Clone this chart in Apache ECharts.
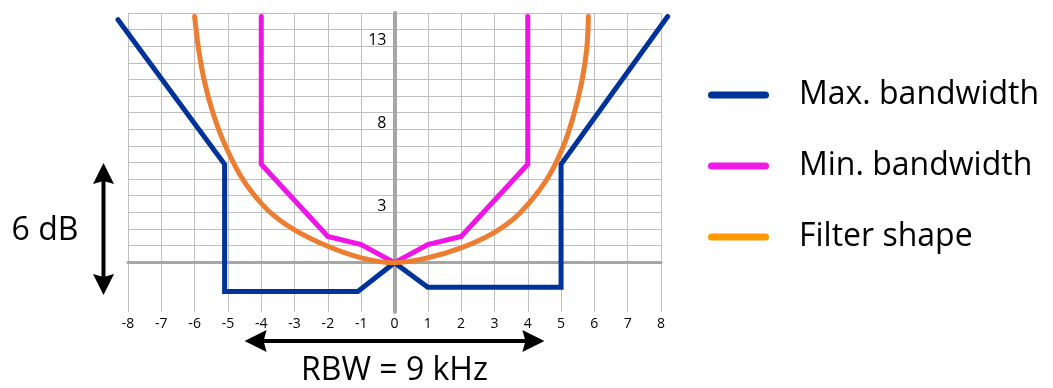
<!DOCTYPE html>
<html>
<head>
<meta charset="utf-8">
<script src="https://cdn.jsdelivr.net/npm/echarts@6/dist/echarts.min.js"></script>
<style>
html,body{margin:0;padding:0;background:#fff;}
#chart{width:1053px;height:388px;}
</style>
</head>
<body>
<div id="chart"></div>
<script>
// ---- data ----
const seriesNames = ['Max. bandwidth', 'Min. bandwidth', 'Filter shape'];
const maxBandwidth = [[-8.3,14.8],[-5.1,6],[-5.1,-1.75],[-1.1,-1.75],[0,0],[1,-1.5],[5,-1.5],[5,6],[8.2,15]];
const minBandwidth = [[-4,15],[-4,6],[-2,1.6],[-1,1.1],[0,0],[1,1.1],[2,1.6],[4,6],[4,15]];
const filterShape = [[-6,15],[-5.88,13],[-5.7,11],[-5.43,9],[-5.05,7],[-4.53,5],[-3.8,3.2],[-3,2],[-2,1.0],[-1,0.3],[0,0],[1,0.3],[2,0.9],[3,1.85],[3.75,3],[4.55,5],[5.05,7],[5.38,9],[5.62,11],[5.77,13],[5.82,15]];
const yTickLabels = [3, 8, 13];
const xRange = [-8, 8];
const yRange = [-3, 15];
const annotations = { level: '6 dB', rbw: 'RBW = 9 kHz', rbwSpan: [-4.5, 4.5] };

const FONT = 'Open Sans';
const GRID_C = '#BFBFBF';
const AXIS_C = '#A6A6A6';
const colors = ['#003399', '#F014E6', '#ED7D31'];
const legendColors = ['#003399', '#F01BE8', '#FF9A00'];

const chart = echarts.init(document.getElementById('chart'), null, {renderer: 'canvas'});

const W = 1053, H = 388;
const gLeft = 128, gRight = W - 661, gTop = 13, gBottom = H - 312;
const gWidth = W - gLeft - gRight, gHeight = H - gTop - gBottom;
const unitX = gWidth / (xRange[1] - xRange[0]);
const unitY = gHeight / (yRange[1] - yRange[0]);
const zeroPx = gTop + yRange[1] * unitY;
const yAxisShift = -xRange[0] * unitX;

const pill = 'path://M3.5,0 L57.5,0 A3.5,3.5 0 0 1 57.5,7 L3.5,7 A3.5,3.5 0 0 1 3.5,0 Z';

const option = {
  animation: false,
  backgroundColor: '#fff',
  grid: [
    {left: gLeft, right: gRight, top: gTop, bottom: gBottom, containLabel: false},
    {left: gLeft, right: gRight, top: gTop, bottom: H - zeroPx, containLabel: false},
    // same scale, one unit wider on each side, so line ends past the frame are not cut
    {left: gLeft - unitX, right: gRight - unitX, top: gTop - unitY, bottom: gBottom, containLabel: false}
  ],
  xAxis: [
    {
      type: 'value', gridIndex: 0, min: xRange[0], max: xRange[1], interval: 1,
      axisLine: {show: false}, axisTick: {show: false},
      axisLabel: {color: '#000', fontFamily: FONT, fontSize: 14, margin: 5},
      splitLine: {show: true, lineStyle: {color: GRID_C, width: 1}}
    },
    {
      type: 'value', gridIndex: 1, min: xRange[0], max: xRange[1], interval: 1,
      axisLine: {show: true, onZero: false, lineStyle: {color: AXIS_C, width: 3}},
      axisTick: {show: false}, axisLabel: {show: false}, splitLine: {show: false}
    },
    {
      type: 'value', gridIndex: 2, min: xRange[0] - 1, max: xRange[1] + 1, show: false
    }
  ],
  yAxis: [
    {
      type: 'value', gridIndex: 0, min: yRange[0], max: yRange[1], interval: 1,
      position: 'left', offset: -yAxisShift,
      axisLine: {show: true, onZero: false, lineStyle: {color: AXIS_C, width: 4}},
      axisTick: {show: false},
      splitLine: {show: false},
      axisLabel: {
        color: '#000', fontFamily: FONT, fontSize: 16, margin: 8,
        verticalAlign: 'bottom', lineHeight: 12,
        formatter: v => (yTickLabels.indexOf(v) >= 0 ? String(v) : '')
      }
    },
    {
      type: 'value', gridIndex: 1, min: 0, max: yRange[1], interval: 1,
      axisLine: {show: false}, axisTick: {show: false}, axisLabel: {show: false},
      splitLine: {show: true, lineStyle: {color: GRID_C, width: 1}}
    },
    {
      type: 'value', gridIndex: 2, min: yRange[0], max: yRange[1] + 1, show: false
    }
  ],
  legend: {
    orient: 'vertical', left: 703, top: 71,
    icon: pill, itemWidth: 61, itemHeight: 7, itemGap: 33,
    textStyle: {fontFamily: FONT, fontSize: 32, color: '#000', lineHeight: 38, padding: [0, 0, 0, 25]},
    data: seriesNames.map((n, i) => ({name: n, itemStyle: {color: legendColors[i]}}))
  },
  series: [
    {name: seriesNames[0], type: 'line', xAxisIndex: 2, yAxisIndex: 2, data: maxBandwidth, showSymbol: false, clip: false, z: 3,
     itemStyle: {color: colors[0]}, lineStyle: {color: colors[0], width: 5, cap: 'round', join: 'miter'}},
    {name: seriesNames[1], type: 'line', xAxisIndex: 2, yAxisIndex: 2, data: minBandwidth, showSymbol: false, clip: false, z: 4,
     itemStyle: {color: colors[1]}, lineStyle: {color: colors[1], width: 5, cap: 'round', join: 'miter'}},
    {name: seriesNames[2], type: 'line', xAxisIndex: 2, yAxisIndex: 2, data: filterShape, showSymbol: false, clip: false, z: 5,
     smooth: 0.35,
     itemStyle: {color: colors[2]}, lineStyle: {color: colors[2], width: 5, cap: 'round'}}
  ]
};
chart.setOption(option);

// annotations (arrows + text)
const xl = chart.convertToPixel({xAxisIndex: 0}, annotations.rbwSpan[0]);
const xr = chart.convertToPixel({xAxisIndex: 0}, annotations.rbwSpan[1]);
const ay = 341;
const vx = 103.5, vTop = 163, vBot = 295;
chart.setOption({
  graphic: [
    {type: 'rect', shape: {x: vx - 2, y: vTop + 15, width: 4, height: vBot - vTop - 30}, style: {fill: '#000'}},
    {type: 'polygon', shape: {points: [[vx, vTop], [vx + 10.5, vTop + 21], [vx, vTop + 18], [vx - 10.5, vTop + 21]]}, style: {fill: '#000'}},
    {type: 'polygon', shape: {points: [[vx, vBot], [vx + 10.5, vBot - 21], [vx, vBot - 18], [vx - 10.5, vBot - 21]]}, style: {fill: '#000'}},
    {type: 'rect', shape: {x: xl + 15, y: ay - 2, width: xr - xl - 30, height: 4}, style: {fill: '#000'}},
    {type: 'polygon', shape: {points: [[xl, ay], [xl + 22, ay - 11], [xl + 19, ay], [xl + 22, ay + 11]]}, style: {fill: '#000'}},
    {type: 'polygon', shape: {points: [[xr, ay], [xr - 22, ay - 11], [xr - 19, ay], [xr - 22, ay + 11]]}, style: {fill: '#000'}},
    {type: 'text', x: 45, y: 231, style: {text: annotations.level, fill: '#000', font: '32px "Open Sans"', textAlign: 'center', textVerticalAlign: 'middle'}},
    {type: 'text', x: (xl + xr) / 2, y: 371, style: {text: annotations.rbw, fill: '#000', font: '32px "Open Sans"', textAlign: 'center', textVerticalAlign: 'middle'}}
  ]
});
</script>
</body>
</html>
